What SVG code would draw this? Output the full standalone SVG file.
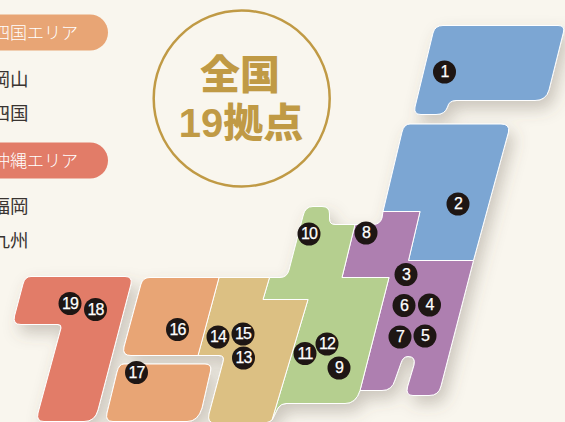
<svg xmlns="http://www.w3.org/2000/svg" width="565" height="422" viewBox="0 0 565 422">
<defs>
<filter id="sh" x="-10%" y="-10%" width="125%" height="125%"><feDropShadow dx="5" dy="8" stdDeviation="8" flood-color="#5f5644" flood-opacity="0.3"/></filter>
</defs>
<style>
.r{stroke:#fff;stroke-width:1;stroke-linejoin:round}
.b{fill:#1e1614}
.n{font-family:"Liberation Sans",Arial,sans-serif;font-size:16px;letter-spacing:-0.8px;fill:#fff;stroke:#fff;stroke-width:0.25;text-anchor:middle}
.pill{font-family:"Noto Sans CJK JP","Noto Sans",sans-serif;font-weight:300;font-size:17px;fill:#fff;text-anchor:end}
.it{font-family:"Noto Sans CJK JP","Noto Sans",sans-serif;font-size:18.5px;fill:#3a3431;text-anchor:end}
.big{font-family:"Noto Sans CJK JP","Noto Sans",sans-serif;font-weight:900;fill:#c09a45;text-anchor:middle;font-size:40px}
.lat{font-family:"Liberation Sans",Arial,sans-serif;font-weight:700}
</style>
<rect width="565" height="422" fill="#f9f6ee"/>
<g id="legend">
<rect x="-40" y="14.500" width="148" height="36" rx="18" fill="#e8a575"/>
<text class="pill" x="78" y="39">四国エリア</text>
<text class="it" x="28.500" y="86">岡山</text>
<text class="it" x="28.500" y="120">四国</text>
<rect x="-40" y="142.500" width="148" height="36" rx="18" fill="#e27c68"/>
<text class="pill" x="78" y="167">沖縄エリア</text>
<text class="it" x="28.500" y="213">福岡</text>
<text class="it" x="28.500" y="247">九州</text>
</g>
<g id="badge-total">
<circle cx="241.700" cy="98.500" r="88" fill="none" stroke="#c09a45" stroke-width="2.500"/>
<text class="big" x="240" y="89">全国</text>
<text class="big" x="241" y="137"><tspan class="lat">19</tspan>拠点</text>
</g>
<g id="map" filter="url(#sh)">
<g id="area-hokkaido"><path class="r" fill="#7ba6d3" d="M443 25.500H558Q565 25.500 563.500 32L549 90Q546 100.500 535 100.500H456Q449 100.500 447.500 107Q445 114.500 436 114.500H421Q413.500 114.500 415 107L433 33Q435 25.500 443 25.500Z"/></g>
<g id="area-tohoku"><path class="r" fill="#7ba6d3" d="M410 124H501Q510 124 508.500 132L473.500 260.500H408.500L420 211.500H383L402 132Q404 124 410 124Z"/></g>
<g id="area-kanto"><path class="r" fill="#ae7fb0" d="M383 211.500H420L408.500 260.500H473.500L441 386Q439 395.500 429 395.500H413Q405.500 395.500 407.500 387L414 365Q416 356.500 408 356.500Q403 356.500 401 363L395 380Q392 390.500 382 390.500H360L389 277.500H342L355 224.500H373Q380 224.500 382 218Z"/></g>
<g id="area-chubu"><path class="r" fill="#b5cf8f" d="M313 206.500H322Q329.500 206.500 329.500 214V219Q329.500 224.500 335 224.500H355L342 277.500H389L360 390.500Q356 403.500 345 403.500H286Q281 403.500 278 408L272 420L308 299.500H263L269.500 277.500H280Q287 277.500 289 270L303 216Q305 206.500 313 206.500Z"/></g>
<g id="area-kinki"><path class="r" fill="#dcc083" d="M219 277.500H269.500L263 299.500H308L272 420Q270 422 265 423H215Q207 423 209 414L223 362Q225 355.500 219 355.500H198Z"/></g>
<g id="area-chugoku"><path class="r" fill="#e8a575" d="M150 277.500H219L198 355.500H131Q122 355.500 124 347L141 284Q143 277.500 150 277.500Z"/></g>
<g id="area-shikoku"><path class="r" fill="#e8a575" d="M124 364H205Q212 364 210.500 371L202 408Q198 421.500 187 421.500H113Q105 421.500 107 413L117 372Q119 364 124 364Z"/></g>
<g id="area-kyushu"><path class="r" fill="#e27c68" d="M31 276.500H125Q132.500 276.500 131 284L98 410Q95 421.500 84 421.500H44Q36 421.500 38 413L61 328Q61.500 324.500 58 324.500H21Q12.500 324.500 14.500 316L23 284Q25 276.500 31 276.500Z"/></g>
</g>
<g id="pins">
<g id="pin-1"><circle class="b" cx="444.500" cy="72" r="11.500"/><text class="n" x="444.500" y="77.300">1</text></g>
<g id="pin-2"><circle class="b" cx="458" cy="204" r="11.500"/><text class="n" x="458" y="209.300">2</text></g>
<g id="pin-3"><circle class="b" cx="406" cy="274.500" r="11.500"/><text class="n" x="406" y="279.800">3</text></g>
<g id="pin-4"><circle class="b" cx="429.500" cy="305" r="11.500"/><text class="n" x="429.500" y="310.300">4</text></g>
<g id="pin-5"><circle class="b" cx="425" cy="336" r="11.500"/><text class="n" x="425" y="341.300">5</text></g>
<g id="pin-6"><circle class="b" cx="404" cy="305.500" r="11.500"/><text class="n" x="404" y="310.800">6</text></g>
<g id="pin-7"><circle class="b" cx="400" cy="337" r="11.500"/><text class="n" x="400" y="342.300">7</text></g>
<g id="pin-8"><circle class="b" cx="366" cy="233" r="11.500"/><text class="n" x="366" y="238.300">8</text></g>
<g id="pin-9"><circle class="b" cx="339" cy="368" r="11.500"/><text class="n" x="339" y="373.300">9</text></g>
<g id="pin-10"><circle class="b" cx="309" cy="234" r="11.500"/><text class="n" x="309" y="239.300">10</text></g>
<g id="pin-11"><circle class="b" cx="305" cy="353.500" r="11.500"/><text class="n" x="305" y="358.800">11</text></g>
<g id="pin-12"><circle class="b" cx="327" cy="344" r="11.500"/><text class="n" x="327" y="349.300">12</text></g>
<g id="pin-13"><circle class="b" cx="243.500" cy="358" r="11.500"/><text class="n" x="243.500" y="363.300">13</text></g>
<g id="pin-14"><circle class="b" cx="218" cy="337" r="11.500"/><text class="n" x="218" y="342.300">14</text></g>
<g id="pin-15"><circle class="b" cx="243" cy="334" r="11.500"/><text class="n" x="243" y="339.300">15</text></g>
<g id="pin-16"><circle class="b" cx="177.500" cy="329.500" r="11.500"/><text class="n" x="177.500" y="334.800">16</text></g>
<g id="pin-17"><circle class="b" cx="136.500" cy="372.500" r="11.500"/><text class="n" x="136.500" y="377.800">17</text></g>
<g id="pin-18"><circle class="b" cx="95.500" cy="309.500" r="11.500"/><text class="n" x="95.500" y="314.800">18</text></g>
<g id="pin-19"><circle class="b" cx="70" cy="303.500" r="11.500"/><text class="n" x="70" y="308.800">19</text></g>
</g>
</svg>
